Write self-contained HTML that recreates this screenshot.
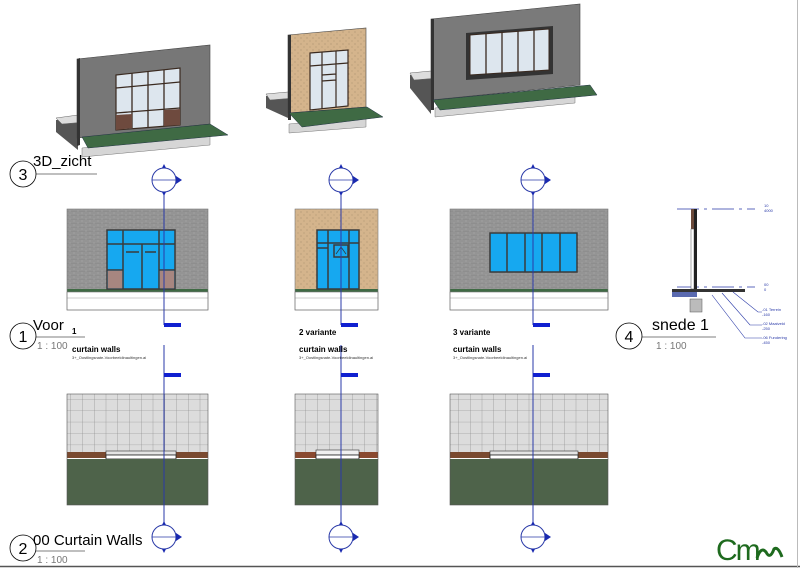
<!DOCTYPE html>
<html><head><meta charset="utf-8"><style>
html,body{margin:0;padding:0;background:#fff;width:800px;height:568px;overflow:hidden}
svg{display:block}
text{font-family:"Liberation Sans",sans-serif}
</style></head><body>
<svg width="800" height="568" viewBox="0 0 800 568" xmlns="http://www.w3.org/2000/svg">
<defs>
<pattern id="brick" width="8" height="4" patternUnits="userSpaceOnUse">
<rect width="8" height="4" fill="#8e8e8e"/>
<path d="M0 0H8M0 2H8M2 0V2M6 2V4" stroke="#a8a8a8" stroke-width="0.6"/>
</pattern>
<pattern id="sand" width="6" height="6" patternUnits="userSpaceOnUse">
<rect width="6" height="6" fill="#d4b48c"/>
<circle cx="1" cy="2" r="0.4" fill="#6a5a40"/><circle cx="4" cy="5" r="0.35" fill="#6a5a40"/>
</pattern>
<pattern id="grid" width="11.75" height="11.4" patternUnits="userSpaceOnUse">
<rect width="11.75" height="11.4" fill="#dcdcdc"/>
<path d="M0 0H11.75M0 0V11.4" stroke="#808080" stroke-width="0.6"/>
</pattern>
<g id="mark">
<circle r="12" fill="#fff" stroke="#2a3aa8" stroke-width="1"/>
<line x1="-12" y1="0" x2="12" y2="0" stroke="#2a3aa8" stroke-width="0.8"/>
<path d="M12 -4L18 0L12 4Z M-2 -12L0 -16L2 -12Z M-2 12L0 16L2 12Z" fill="#1a2ab0"/>
</g>
</defs>

<polygon points="56,120 78,118 78,150 56,132" fill="#555"/>
<polygon points="56,118 78,115 86,122 62,124" fill="#ddd" stroke="#666" stroke-width="0.5"/>
<polygon points="82,148 210,134 210,145 82,157" fill="#d6d6d6" stroke="#777" stroke-width="0.5"/>
<polygon points="77,59 210,45 210,124 77,138" fill="#777" stroke="#444" stroke-width="0.6"/>
<polygon points="77,59 80,58 80,145 77,146" fill="#333"/>
<polygon points="116,75 180,68 180,125 116,130" fill="#dde6ee" stroke="#3a2a20" stroke-width="1.2"/>
<path d="M132,73V128M148,71V127M164,70V126M116,88L180,82M116,113L180,108" stroke="#3a2a20" stroke-width="1.3"/>
<polygon points="116,115 132,114 132,128 116,130" fill="#6e4a3e"/>
<polygon points="164,110 180,109 180,125 164,126" fill="#6e4a3e"/>
<polygon points="82,137 210,124 228,135 88,148" fill="#3f6a44" stroke="#234" stroke-width="0.5"/>

<polygon points="266,96 288,94 288,118 266,108" fill="#555"/>
<polygon points="266,94 288,92 294,98 270,100" fill="#ddd" stroke="#666" stroke-width="0.5"/>
<polygon points="289,124 366,117 366,127 289,133" fill="#d6d6d6" stroke="#777" stroke-width="0.5"/>
<polygon points="288,35 366,28 366,107 288,113" fill="url(#sand)" stroke="#444" stroke-width="0.6"/>
<polygon points="288,35 291,35 291,120 288,120" fill="#333"/>
<polygon points="310,53 348,50 348,106 310,110" fill="#dde6ee" stroke="#3a2a20" stroke-width="1.2"/>
<path d="M322,52V109M336,51V107M310,66L348,63M322,75L336,74M322,81L336,80" stroke="#3a2a20" stroke-width="1.2"/>
<polygon points="289,113 367,107 383,117 302,127" fill="#3f6a44" stroke="#234" stroke-width="0.5"/>

<polygon points="410,75 431,73 431,114 410,88" fill="#555"/>
<polygon points="410,73 431,71 438,78 414,80" fill="#ddd" stroke="#666" stroke-width="0.5"/>
<polygon points="435,108 575,94 575,103 435,117" fill="#d6d6d6" stroke="#777" stroke-width="0.5"/>
<polygon points="431,19 580,4 580,85 431,100" fill="#7a7a7a" stroke="#444" stroke-width="0.6"/>
<polygon points="431,19 434,19 434,110 431,110" fill="#333"/>
<polygon points="466,33 553,26 553,74 466,80" fill="#333"/>
<polygon points="470,35 549,29 549,70 470,75" fill="#dde6ee" stroke="#3a2a20" stroke-width="1"/>
<path d="M486,34V74M502,32V73M518,31V72M534,30V71" stroke="#3a2a20" stroke-width="1.3"/>
<polygon points="433,100 590,85 597,95 440,110" fill="#3f6a44" stroke="#234" stroke-width="0.5"/>

<circle cx="23" cy="174" r="13" fill="#fff" stroke="#000" stroke-width="0.8"/>
<text x="23" y="180" font-size="16" text-anchor="middle">3</text>
<text x="33" y="166" font-size="15">3D_zicht</text>
<line x1="36" y1="174" x2="97" y2="174" stroke="#000" stroke-width="0.6"/>

<g>
<rect x="67" y="209" width="141" height="81" fill="url(#brick)"/>
<rect x="67" y="289" width="141" height="3" fill="#3f6a44"/>
<rect x="67" y="292" width="141" height="18" fill="#fff" stroke="#777" stroke-width="0.6"/>
<line x1="67" y1="298" x2="208" y2="298" stroke="#999" stroke-width="0.6"/>
<rect x="67" y="209" width="141" height="101" fill="none" stroke="#777" stroke-width="0.6"/>
<rect x="107" y="230" width="68" height="59" fill="#16a8f0" stroke="#3a3a3a" stroke-width="1.5"/>
<path d="M107,244H175M123,230V289M142,244V289M159,230V289M107,270H123M159,270H175M126,252H139M145,252H156" stroke="#3a3a3a" stroke-width="1.5"/>
<rect x="107.8" y="270.8" width="14.4" height="17.5" fill="#a78680"/>
<rect x="159.8" y="270.8" width="14.4" height="17.5" fill="#a78680"/>
</g>
<g>
<rect x="295" y="209" width="83" height="81" fill="url(#sand)"/>
<rect x="295" y="289" width="83" height="3" fill="#3f6a44"/>
<rect x="295" y="292" width="83" height="18" fill="#fff" stroke="#777" stroke-width="0.6"/>
<line x1="295" y1="298" x2="378" y2="298" stroke="#999" stroke-width="0.6"/>
<rect x="295" y="209" width="83" height="101" fill="none" stroke="#777" stroke-width="0.6"/>
<rect x="317" y="230" width="42" height="59" fill="#16a8f0" stroke="#3a3a3a" stroke-width="1.5"/>
<path d="M317,243H359M328,230V289M349,230V289M317,248H328" stroke="#3a3a3a" stroke-width="1.5"/>
<rect x="334" y="245" width="14" height="12" fill="#16a8f0" stroke="#3a3a3a" stroke-width="1.5"/>
<path d="M336,254L341,247L346,254" stroke="#333" fill="none" stroke-width="0.7"/>
</g>
<g>
<rect x="450" y="209" width="158" height="81" fill="url(#brick)"/>
<rect x="450" y="289" width="158" height="3" fill="#3f6a44"/>
<rect x="450" y="292" width="158" height="18" fill="#fff" stroke="#777" stroke-width="0.6"/>
<line x1="450" y1="298" x2="608" y2="298" stroke="#999" stroke-width="0.6"/>
<rect x="450" y="209" width="158" height="101" fill="none" stroke="#777" stroke-width="0.6"/>
<rect x="490" y="233" width="87" height="39" fill="#16a8f0" stroke="#3a3a3a" stroke-width="1.5"/>
<path d="M507,233V272M525,233V272M542,233V272M560,233V272" stroke="#3a3a3a" stroke-width="1.5"/>
</g>

<g>
<rect x="67" y="394" width="141" height="58" fill="url(#grid)"/>
<rect x="67" y="452" width="141" height="6" fill="#7a4a30"/>
<rect x="106" y="451" width="70" height="4" fill="#e4e4e4" stroke="#333" stroke-width="0.6"/>
<rect x="106" y="455" width="70" height="4" fill="#fff" stroke="#222" stroke-width="0.8"/>
<rect x="67" y="459" width="141" height="46" fill="#4e634a"/>
<rect x="67" y="394" width="141" height="111" fill="none" stroke="#555" stroke-width="0.6"/>
</g>
<g>
<rect x="295" y="394" width="83" height="58" fill="url(#grid)"/>
<rect x="295" y="452" width="83" height="6" fill="#8a4a30"/>
<rect x="316" y="450" width="43" height="5" fill="#f0f0f0" stroke="#333" stroke-width="0.6"/>
<rect x="316" y="455" width="43" height="4" fill="#fff" stroke="#222" stroke-width="0.8"/>
<rect x="295" y="459" width="83" height="46" fill="#4e634a"/>
<rect x="295" y="394" width="83" height="111" fill="none" stroke="#555" stroke-width="0.6"/>
</g>
<g>
<rect x="450" y="394" width="158" height="58" fill="url(#grid)"/>
<rect x="450" y="452" width="158" height="6" fill="#7a4a30"/>
<rect x="490" y="451" width="88" height="4" fill="#e4e4e4" stroke="#333" stroke-width="0.6"/>
<rect x="490" y="455" width="88" height="4" fill="#fff" stroke="#222" stroke-width="0.8"/>
<rect x="450" y="459" width="158" height="46" fill="#4e634a"/>
<rect x="450" y="394" width="158" height="111" fill="none" stroke="#555" stroke-width="0.6"/>
</g>

<g stroke="#2a3aa8" stroke-width="1">
<line x1="164" y1="190" x2="164" y2="325"/><line x1="164" y1="345" x2="164" y2="522"/>
<line x1="341" y1="190" x2="341" y2="325"/><line x1="341" y1="345" x2="341" y2="522"/>
<line x1="533" y1="190" x2="533" y2="325"/><line x1="533" y1="345" x2="533" y2="522"/>
</g>
<g fill="#1020d0">
<rect x="164" y="323" width="17" height="4"/><rect x="341" y="323" width="17" height="4"/><rect x="533" y="323" width="17" height="4"/>
<rect x="164" y="373" width="17" height="4"/><rect x="341" y="373" width="17" height="4"/><rect x="533" y="373" width="17" height="4"/>
</g>
<use href="#mark" x="164" y="180"/><use href="#mark" x="341" y="180"/><use href="#mark" x="533" y="180"/>
<use href="#mark" x="164" y="537"/><use href="#mark" x="341" y="537"/><use href="#mark" x="533" y="537"/>

<circle cx="23" cy="336" r="13" fill="#fff" stroke="#000" stroke-width="0.8"/>
<text x="23" y="342" font-size="16" text-anchor="middle">1</text>
<text x="33" y="330" font-size="15">Voor</text>
<text x="72" y="334" font-size="8" font-weight="bold">1</text>
<line x1="36" y1="337" x2="85" y2="337" stroke="#000" stroke-width="0.6"/>
<text x="37" y="349" font-size="10" fill="#777">1 : 100</text>
<text x="72" y="352" font-size="8" font-weight="bold">curtain walls</text>
<text x="72" y="359" font-size="4" fill="#333">3+_Oostlingsnate-Voorbeeldinaultingen.ai</text>

<text x="299" y="335" font-size="8" font-weight="bold">2 variante</text>
<text x="299" y="352" font-size="8" font-weight="bold">curtain walls</text>
<text x="299" y="359" font-size="4" fill="#333">3+_Oostlingsnate-Voorbeeldinaultingen.ai</text>
<text x="453" y="335" font-size="8" font-weight="bold">3 variante</text>
<text x="453" y="352" font-size="8" font-weight="bold">curtain walls</text>
<text x="453" y="359" font-size="4" fill="#333">3+_Oostlingsnate-Voorbeeldinaultingen.ai</text>

<line x1="677" y1="209" x2="755" y2="209" stroke="#2a3aa8" stroke-width="0.8" stroke-dasharray="22,5,3,5"/>
<line x1="677" y1="287" x2="755" y2="287" stroke="#2a3aa8" stroke-width="0.8" stroke-dasharray="22,5,3,5"/>
<rect x="691" y="209" width="3" height="20" fill="#6b4a3a"/>
<rect x="691" y="229" width="3" height="60" fill="#fff" stroke="#555" stroke-width="0.5"/>
<rect x="694" y="209" width="3" height="80" fill="#222"/>
<rect x="672" y="289" width="73" height="3" fill="#333"/>
<rect x="672" y="292" width="25" height="5" fill="#5a6ab0"/>
<rect x="690" y="299" width="12" height="13" fill="#bbb" stroke="#555" stroke-width="0.5"/>
<g stroke="#2a3aa8" stroke-width="0.6" fill="none">
<path d="M733,292L758,312H762M722,293L750,325H762M712,295L745,338H762"/>
</g>
<g fill="#2a3aa8" font-size="4">
<text x="764" y="207">10</text><text x="764" y="212">4000</text>
<text x="764" y="286">00</text><text x="764" y="291">0</text>
<text x="762" y="311">-01 Terrein</text><text x="762" y="316">-160</text>
<text x="762" y="325">-02 Maaiveld</text><text x="762" y="330">-250</text>
<text x="762" y="339">-06 Fundering</text><text x="762" y="344">-450</text>
</g>
<circle cx="629" cy="336" r="13" fill="#fff" stroke="#000" stroke-width="0.8"/>
<text x="629" y="342" font-size="16" text-anchor="middle">4</text>
<text x="652" y="330" font-size="16">snede 1</text>
<line x1="642" y1="337" x2="716" y2="337" stroke="#000" stroke-width="0.6"/>
<text x="656" y="349" font-size="10" fill="#777">1 : 100</text>

<circle cx="23" cy="548" r="13" fill="#fff" stroke="#000" stroke-width="0.8"/>
<text x="23" y="554" font-size="16" text-anchor="middle">2</text>
<text x="33" y="545" font-size="15">00 Curtain Walls</text>
<line x1="36" y1="551" x2="85" y2="551" stroke="#000" stroke-width="0.6"/>
<text x="37" y="563" font-size="10" fill="#777">1 : 100</text>

<text x="716" y="560" font-size="30" fill="#1e6a1e" letter-spacing="-2">Cm</text>
<path d="M757,558 Q761,546 766,552 Q770,560 774,549 Q778,546 782,557" stroke="#1e6a1e" stroke-width="3" fill="none"/>

<line x1="0" y1="566.5" x2="800" y2="566.5" stroke="#555" stroke-width="1.5"/>
<line x1="797.5" y1="0" x2="797.5" y2="568" stroke="#bbb" stroke-width="1"/>
</svg>
</body></html>
